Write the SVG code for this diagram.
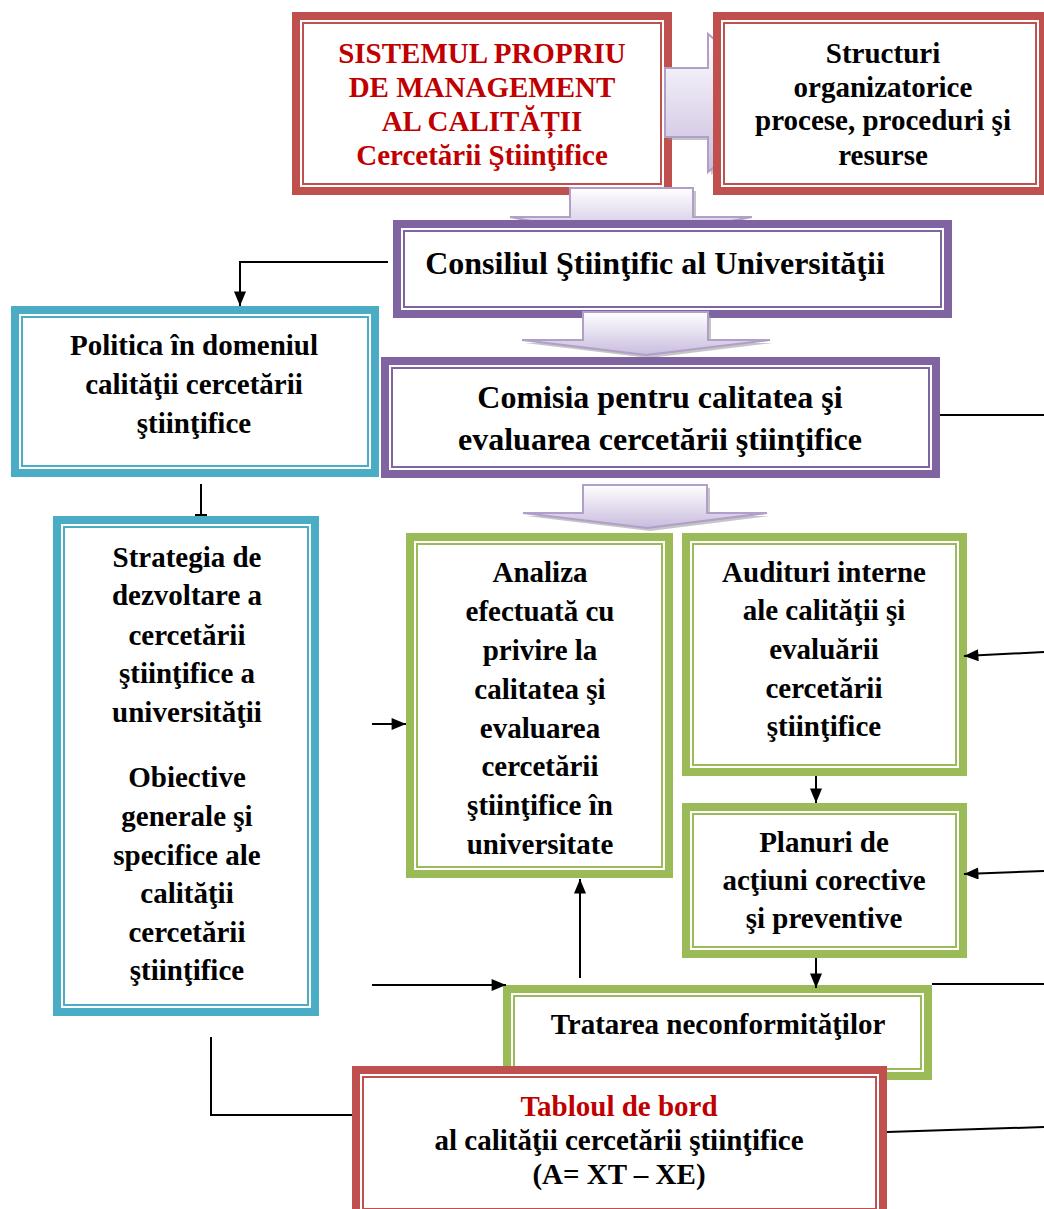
<svg xmlns="http://www.w3.org/2000/svg" width="1044" height="1209" viewBox="0 0 1044 1209">
<defs>
<linearGradient id="gv" x1="0" y1="0" x2="0" y2="1">
<stop offset="0" stop-color="#ffffff"/>
<stop offset="1" stop-color="#c9bcde"/>
</linearGradient>
<marker id="ah" viewBox="0 0 12 10" refX="12" refY="5" markerWidth="15" markerHeight="12" markerUnits="userSpaceOnUse" orient="auto">
<path d="M0,0 L12,5 L0,10 z" fill="#000"/>
</marker>
<style>
.o{fill:#fff;stroke-width:8}
.i{fill:none;stroke-width:2}
.red{stroke:#c0504d}
.pur{stroke:#8064a2}
.blu{stroke:#4bacc6}
.grn{stroke:#9bbb59}
text{font-family:"Liberation Serif","Times New Roman",serif;font-weight:bold;font-size:29px;fill:#000;text-anchor:middle}
.big{font-size:32px}
.rt{fill:#c00000}
.c{stroke:#000;stroke-width:2;fill:none}
.ba{stroke:#b09fc9;stroke-width:2;fill:url(#gv)}
.sh{fill:#8c8c8c;opacity:.5}
</style>
</defs>
<rect x="0" y="0" width="1044" height="1209" fill="#fff"/>

<g id="n-sistemul">
<rect class="o red" x="296" y="16" width="372" height="175"/>
<rect class="i red" x="303" y="23" width="358" height="161"/>
<text class="rt" x="482" y="63">SISTEMUL PROPRIU</text>
<text class="rt" x="482" y="97">DE MANAGEMENT</text>
<text class="rt" x="482" y="131">AL CALITĂȚII</text>
<text class="rt" x="482" y="165">Cercetării Ştiinţifice</text>
</g>

<g id="blockarrow-right">
<path class="sh" d="M668,71 L711,71 L711,37 L793,106 L711,175 L711,140 L668,140 Z"/>
<path class="ba" d="M665,68 L708,68 L708,34 L790,103 L708,172 L708,137 L665,137 Z"/>
</g>

<g id="n-structuri">
<rect class="o red" x="717" y="16" width="326" height="175"/>
<rect class="i red" x="724" y="23" width="312" height="161"/>
<text x="883" y="63">Structuri</text>
<text x="883" y="97">organizatorice</text>
<text x="883" y="130">procese, proceduri şi</text>
<text x="883" y="165">resurse</text>
</g>

<g id="blockarrow-down-1">
<path class="sh" d="M573,191 L696,191 L696,220 L755,220 L634,243 L513,220 L573,220 Z"/>
<path class="ba" d="M570,188 L693,188 L693,217 L752,217 L631,240 L510,217 L570,217 Z"/>
</g>

<g id="n-consiliul">
<rect class="o pur" x="397" y="224" width="551" height="90"/>
<rect class="i pur" x="404" y="231" width="537" height="76"/>
<text class="big" x="655" y="274">Consiliul Ştiinţific al Universităţii</text>
</g>

<g id="blockarrow-down-2">
<path class="sh" d="M586,315 L711,315 L711,343 L773,343 L649,358 L525,343 L586,343 Z"/>
<path class="ba" d="M583,312 L708,312 L708,340 L770,340 L646,355 L522,340 L583,340 Z"/>
</g>

<g id="n-politica">
<rect class="o blu" x="15" y="310" width="360" height="163"/>
<rect class="i blu" x="22" y="317" width="346" height="149"/>
<text x="194" y="355">Politica în domeniul</text>
<text x="194" y="394">calităţii cercetării</text>
<text x="194" y="433">ştiinţifice</text>
</g>

<g id="n-comisia">
<rect class="o pur" x="385" y="361" width="551" height="113"/>
<rect class="i pur" x="392" y="368" width="537" height="99"/>
<text class="big" x="660" y="408">Comisia pentru calitatea şi</text>
<text class="big" x="660" y="450">evaluarea cercetării ştiinţifice</text>
</g>

<g id="blockarrow-down-3">
<path class="sh" d="M586,488 L710,488 L710,516 L770,516 L650,531 L526,516 L586,516 Z"/>
<path class="ba" d="M583,485 L707,485 L707,513 L767,513 L647,528 L523,513 L583,513 Z"/>
</g>

<g id="n-strategia">
<rect class="o blu" x="57" y="520" width="258" height="492"/>
<rect class="i blu" x="64" y="527" width="244" height="478"/>
<text x="187" y="567">Strategia de</text>
<text x="187" y="605">dezvoltare a</text>
<text x="187" y="645">cercetării</text>
<text x="187" y="683">ştiinţifice a</text>
<text x="187" y="722">universităţii</text>
<text x="187" y="787">Obiective</text>
<text x="187" y="826">generale şi</text>
<text x="187" y="865">specifice ale</text>
<text x="187" y="903">calităţii</text>
<text x="187" y="942">cercetării</text>
<text x="187" y="980">ştiinţifice</text>
</g>

<g id="n-analiza">
<rect class="o grn" x="410" y="537" width="259" height="337"/>
<rect class="i grn" x="417" y="544" width="245" height="323"/>
<text x="540" y="582">Analiza</text>
<text x="540" y="621">efectuată cu</text>
<text x="540" y="660">privire la</text>
<text x="540" y="699">calitatea şi</text>
<text x="540" y="738">evaluarea</text>
<text x="540" y="776">cercetării</text>
<text x="540" y="815">ştiinţifice în</text>
<text x="540" y="854">universitate</text>
</g>

<g id="n-audituri">
<rect class="o grn" x="686" y="537" width="277" height="235"/>
<rect class="i grn" x="693" y="544" width="263" height="221"/>
<text x="824" y="582">Audituri interne</text>
<text x="824" y="620">ale calităţii şi</text>
<text x="824" y="659">evaluării</text>
<text x="824" y="698">cercetării</text>
<text x="824" y="736">ştiinţifice</text>
</g>

<g id="n-planuri">
<rect class="o grn" x="686" y="807" width="277" height="147"/>
<rect class="i grn" x="693" y="814" width="263" height="133"/>
<text x="824" y="852">Planuri de</text>
<text x="824" y="890">acţiuni corective</text>
<text x="824" y="928">şi preventive</text>
</g>

<g id="n-tratarea">
<rect class="o grn" x="507" y="989" width="421" height="87"/>
<rect class="i grn" x="514" y="996" width="407" height="73"/>
<text x="718" y="1034">Tratarea neconformităţilor</text>
</g>

<g id="n-tabloul">
<rect class="o red" x="356" y="1070" width="527" height="146"/>
<rect class="i red" x="363" y="1077" width="513" height="132"/>
<text class="rt" x="619" y="1116">Tabloul de bord</text>
<text x="619" y="1150">al calităţii cercetării ştiinţifice</text>
<text x="619" y="1184">(A= XT – XE)</text>
</g>

<g id="connectors">
<polyline class="c" points="388,262 240,262 240,306" marker-end="url(#ah)"/>
<line class="c" x1="201" y1="484" x2="201" y2="515"/>
<line class="c" x1="195" y1="515" x2="207" y2="515"/>
<line class="c" x1="372" y1="724" x2="406" y2="724" marker-end="url(#ah)"/>
<line class="c" x1="372" y1="985" x2="506" y2="985" marker-end="url(#ah)"/>
<line class="c" x1="580" y1="978" x2="580" y2="879" marker-end="url(#ah)"/>
<line class="c" x1="816" y1="776" x2="816" y2="803" marker-end="url(#ah)"/>
<line class="c" x1="816" y1="958" x2="816" y2="988" marker-end="url(#ah)"/>
<line class="c" x1="940" y1="415" x2="1044" y2="415"/>
<line class="c" x1="1044" y1="652" x2="964" y2="656" marker-end="url(#ah)"/>
<line class="c" x1="1044" y1="871" x2="964" y2="874" marker-end="url(#ah)"/>
<line class="c" x1="932" y1="984" x2="1044" y2="984"/>
<line class="c" x1="887" y1="1132" x2="1044" y2="1127"/>
<polyline class="c" points="211,1037 211,1115 352,1115"/>
</g>
</svg>
